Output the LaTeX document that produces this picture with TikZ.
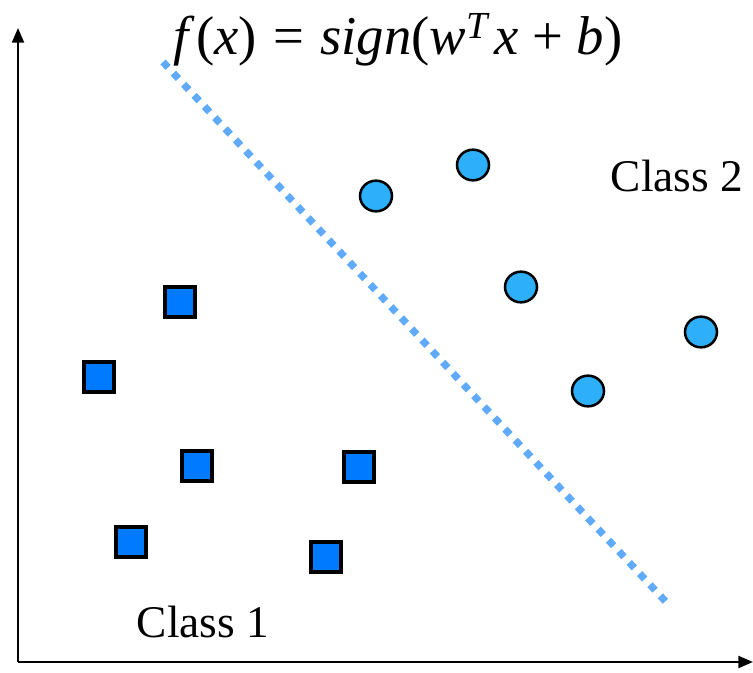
\documentclass[tikz,border=0pt]{standalone}
\usepackage{fontspec}
\setmainfont{Liberation Serif}
\usepackage{xcolor}
\usetikzlibrary{arrows.meta,positioning,shapes.geometric}
\definecolor{sqblue}{RGB}{0,122,255}
\definecolor{dotblue}{RGB}{45,175,250}
\definecolor{lineblue}{RGB}{95,170,250}
\tikzset{
  sqpt/.style={rectangle, draw=black, line width=2.4pt, fill=sqblue, minimum size=22.5pt, inner sep=0pt},
  circpt/.style={ellipse, draw=black, line width=1.9pt, fill=dotblue, minimum width=24pt, minimum height=23pt, inner sep=0pt},
  sepline/.style={lineblue, line width=5.4pt, dash pattern=on 5.6pt off 5.8pt},
  axisarrow/.style={line width=1.6pt, -{Triangle[length=11pt,width=9pt]}},
  classlbl/.style={font=\fontsize{34}{38}\selectfont, inner sep=0pt}
}
\begin{document}
\begin{tikzpicture}[x=0.75pt,y=-0.75pt]
  \useasboundingbox (0,0) rectangle (753,673);
  % axes
  \coordinate (o) at (18,662);
  \coordinate (ytop) at (18,28);
  \coordinate (xend) at (753,662);
  \draw[axisarrow] (o) -- (ytop);
  \draw[axisarrow] (o) -- (xend);

  % separating line
  \coordinate (lA) at (163,62);
  \coordinate (lB) at (667,603);
  \draw[sepline] (lA) -- (lB);

  % formula
  \node[inner sep=0pt, font=\fontsize{41}{44}\selectfont] (fx) at (398,40)
    {\textit{f}\kern1pt(\textit{x})\kern2pt{} = \kern2pt{}\textit{sign}(\textit{w}\raisebox{3pt}{\textsuperscript{\textit{T}}}\kern3pt{}\textit{x} + \textit{b})};

  % class 1
  \node[sqpt] (s1) at (180,302) {};
  \node[sqpt] (s2) at (99,377) {};
  \node[sqpt] (s3) at (197,466) {};
  \node[sqpt] (s4) at (359,467) {};
  \node[sqpt] (s5) at (131,542) {};
  \node[sqpt] (s6) at (326,557) {};
  \node[classlbl] (cl1) at (203,622) {Class 1};

  % class 2
  \node[circpt] (c1) at (376,196) {};
  \node[circpt] (c2) at (473,165) {};
  \node[circpt] (c3) at (521,287) {};
  \node[circpt] (c4) at (701,332) {};
  \node[circpt] (c5) at (588,391) {};
  \node[classlbl] (cl2) at (677,176) {Class 2};
\end{tikzpicture}
\end{document}
